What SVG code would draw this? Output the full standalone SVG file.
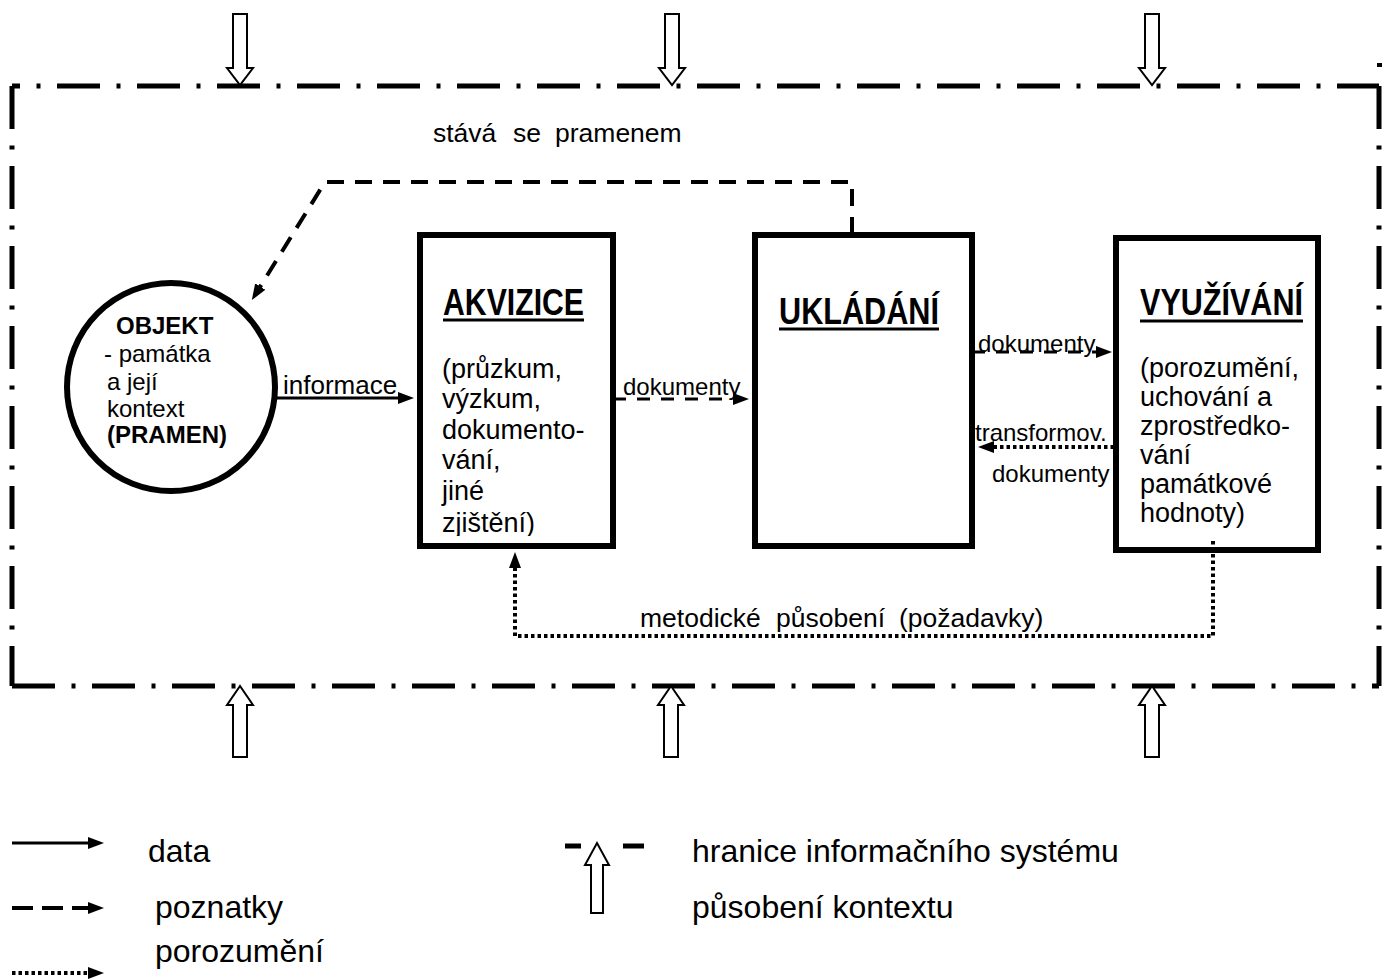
<svg xmlns="http://www.w3.org/2000/svg" width="1390" height="979" viewBox="0 0 1390 979">
<defs>
<style>
text{font-family:"Liberation Sans",Arial,Helvetica,sans-serif;fill:#000}
.b{font-weight:bold}
.bd{fill:none;stroke:#000;stroke-width:5;stroke-dasharray:43 16.5 4 16.5}
.box{fill:none;stroke:#000;stroke-width:6}
.ctx{fill:#fff;stroke:#000;stroke-width:2}
.solid{fill:none;stroke:#000;stroke-width:3}
.dash{fill:none;stroke:#000;stroke-width:4;stroke-dasharray:17 11}
.dash2{fill:none;stroke:#000;stroke-width:3;stroke-dasharray:13 11}
.dot{fill:none;stroke:#000;stroke-width:4;stroke-dasharray:3.5 3}
.ul{stroke:#000;stroke-width:3}
</style>
<marker id="ah" markerUnits="userSpaceOnUse" viewBox="0 0 16 12" refX="10" refY="6" markerWidth="16" markerHeight="12" orient="auto"><path d="M0,0 L16,6 L0,12 z"/></marker>
<path id="down" d="M-7,0 H7 V54 H13 L0,71 L-13,54 H-7 Z"/>
<path id="up" d="M-7,0 H7 V-52 H13 L0,-71 L-13,-52 H-7 Z"/>
<clipPath id="akclip"><rect x="420" y="235" width="193" height="301"/></clipPath>
</defs>
<rect width="1390" height="979" fill="#fff"/>

<g id="boundary">
<path class="bd" d="M12,86 H1379" stroke-dashoffset="35"/>
<path class="bd" d="M12,86 V686"/>
<path class="bd" d="M1379,86 V686"/>
<path class="bd" d="M12,686 H1379"/>
<rect x="1377" y="63" width="5" height="4"/>
</g>

<g id="context-arrows">
<use href="#down" class="ctx" x="240" y="14"/>
<use href="#down" class="ctx" x="672" y="14"/>
<use href="#down" class="ctx" x="1152" y="14"/>
<use href="#up" class="ctx" x="240" y="757"/>
<use href="#up" class="ctx" x="671" y="757"/>
<use href="#up" class="ctx" x="1152" y="757"/>
</g>

<g id="connectors">
<path class="solid" d="M277,398 H408" marker-end="url(#ah)"/>
<text x="283" y="394" font-size="26">informace</text>
<path class="dash2" d="M613,399 H743" marker-end="url(#ah)"/>
<text x="623" y="395" font-size="24">dokumenty</text>
<path class="dash2" d="M972,352 H1106" marker-end="url(#ah)"/>
<text x="978" y="352" font-size="24">dokumenty</text>
<path class="dot" d="M1114,447 H984" marker-end="url(#ah)"/>
<text x="975" y="441" font-size="24">transformov.</text>
<text x="992" y="482" font-size="24">dokumenty</text>
<path class="dash" d="M852,234 V182 H325 L255,295" marker-end="url(#ah)"/>
<text y="142" font-size="26.5"><tspan x="433">stává</tspan><tspan x="513">se</tspan><tspan x="555">pramenem</tspan></text>
<path class="dot" d="M1213,541 V636 H515 V558" marker-end="url(#ah)"/>
<text y="627" font-size="26.5"><tspan x="640">metodické</tspan><tspan x="776">působení</tspan><tspan x="899">(požadavky)</tspan></text>
</g>

<g id="node-objekt">
<circle cx="171" cy="387" r="104" fill="#fff" stroke="#000" stroke-width="6"/>
<text x="116" y="334" font-size="24" class="b">OBJEKT</text>
<text x="104" y="362" font-size="24">- památka</text>
<text x="107" y="390" font-size="24">a její</text>
<text x="107" y="417" font-size="24">kontext</text>
<text x="107" y="443" font-size="24" class="b">(PRAMEN)</text>
</g>

<g id="node-akvizice">
<rect x="420" y="235" width="193" height="311" fill="#fff"/>
<text x="443" y="315" font-size="36" class="b" textLength="141" lengthAdjust="spacingAndGlyphs">AKVIZICE</text>
<line class="ul" x1="443" y1="320" x2="584" y2="320"/>
<g font-size="27" clip-path="url(#akclip)">
<text x="442" y="378">(průzkum,</text>
<text x="442" y="408">výzkum,</text>
<text x="442" y="439">dokumento-</text>
<text x="442" y="469">vání,</text>
<text x="442" y="500">jiné</text>
<text x="442" y="532">zjištění)</text>
</g>
<rect class="box" x="420" y="235" width="193" height="311"/>
</g>

<g id="node-ukladani">
<rect class="box" x="755" y="235" width="217" height="311"/>
<text x="779" y="324" font-size="36" class="b" textLength="160" lengthAdjust="spacingAndGlyphs">UKLÁDÁNÍ</text>
<line class="ul" x1="779" y1="329" x2="939" y2="329"/>
</g>

<g id="node-vyuzivani">
<rect class="box" x="1116" y="238" width="202" height="312"/>
<text x="1140" y="315" font-size="36" class="b" textLength="163" lengthAdjust="spacingAndGlyphs">VYUŽÍVÁNÍ</text>
<line class="ul" x1="1140" y1="321" x2="1303" y2="321"/>
<g font-size="27">
<text x="1140" y="377">(porozumění,</text>
<text x="1140" y="406">uchování a</text>
<text x="1140" y="435">zprostředko-</text>
<text x="1140" y="464">vání</text>
<text x="1140" y="493">památkové</text>
<text x="1140" y="522">hodnoty)</text>
</g>
</g>

<g id="legend">
<path class="solid" d="M12,843 H98" marker-end="url(#ah)"/>
<text x="148" y="862" font-size="32">data</text>
<path d="M12,908 H98" fill="none" stroke="#000" stroke-width="4" stroke-dasharray="21 9" marker-end="url(#ah)"/>
<text x="155" y="918" font-size="32">poznatky</text>
<path class="dot" d="M12,973 H98" marker-end="url(#ah)"/>
<text x="155" y="962" font-size="32">porozumění</text>
<line x1="565" y1="846" x2="581" y2="846" stroke="#000" stroke-width="5"/>
<line x1="623" y1="846" x2="644" y2="846" stroke="#000" stroke-width="5"/>
<path class="ctx" d="M591,913 H603 V865 H609 L597,843 L585,865 H591 Z"/>
<text x="692" y="862" font-size="32">hranice informačního systému</text>
<text x="692" y="918" font-size="32">působení kontextu</text>
</g>
</svg>
